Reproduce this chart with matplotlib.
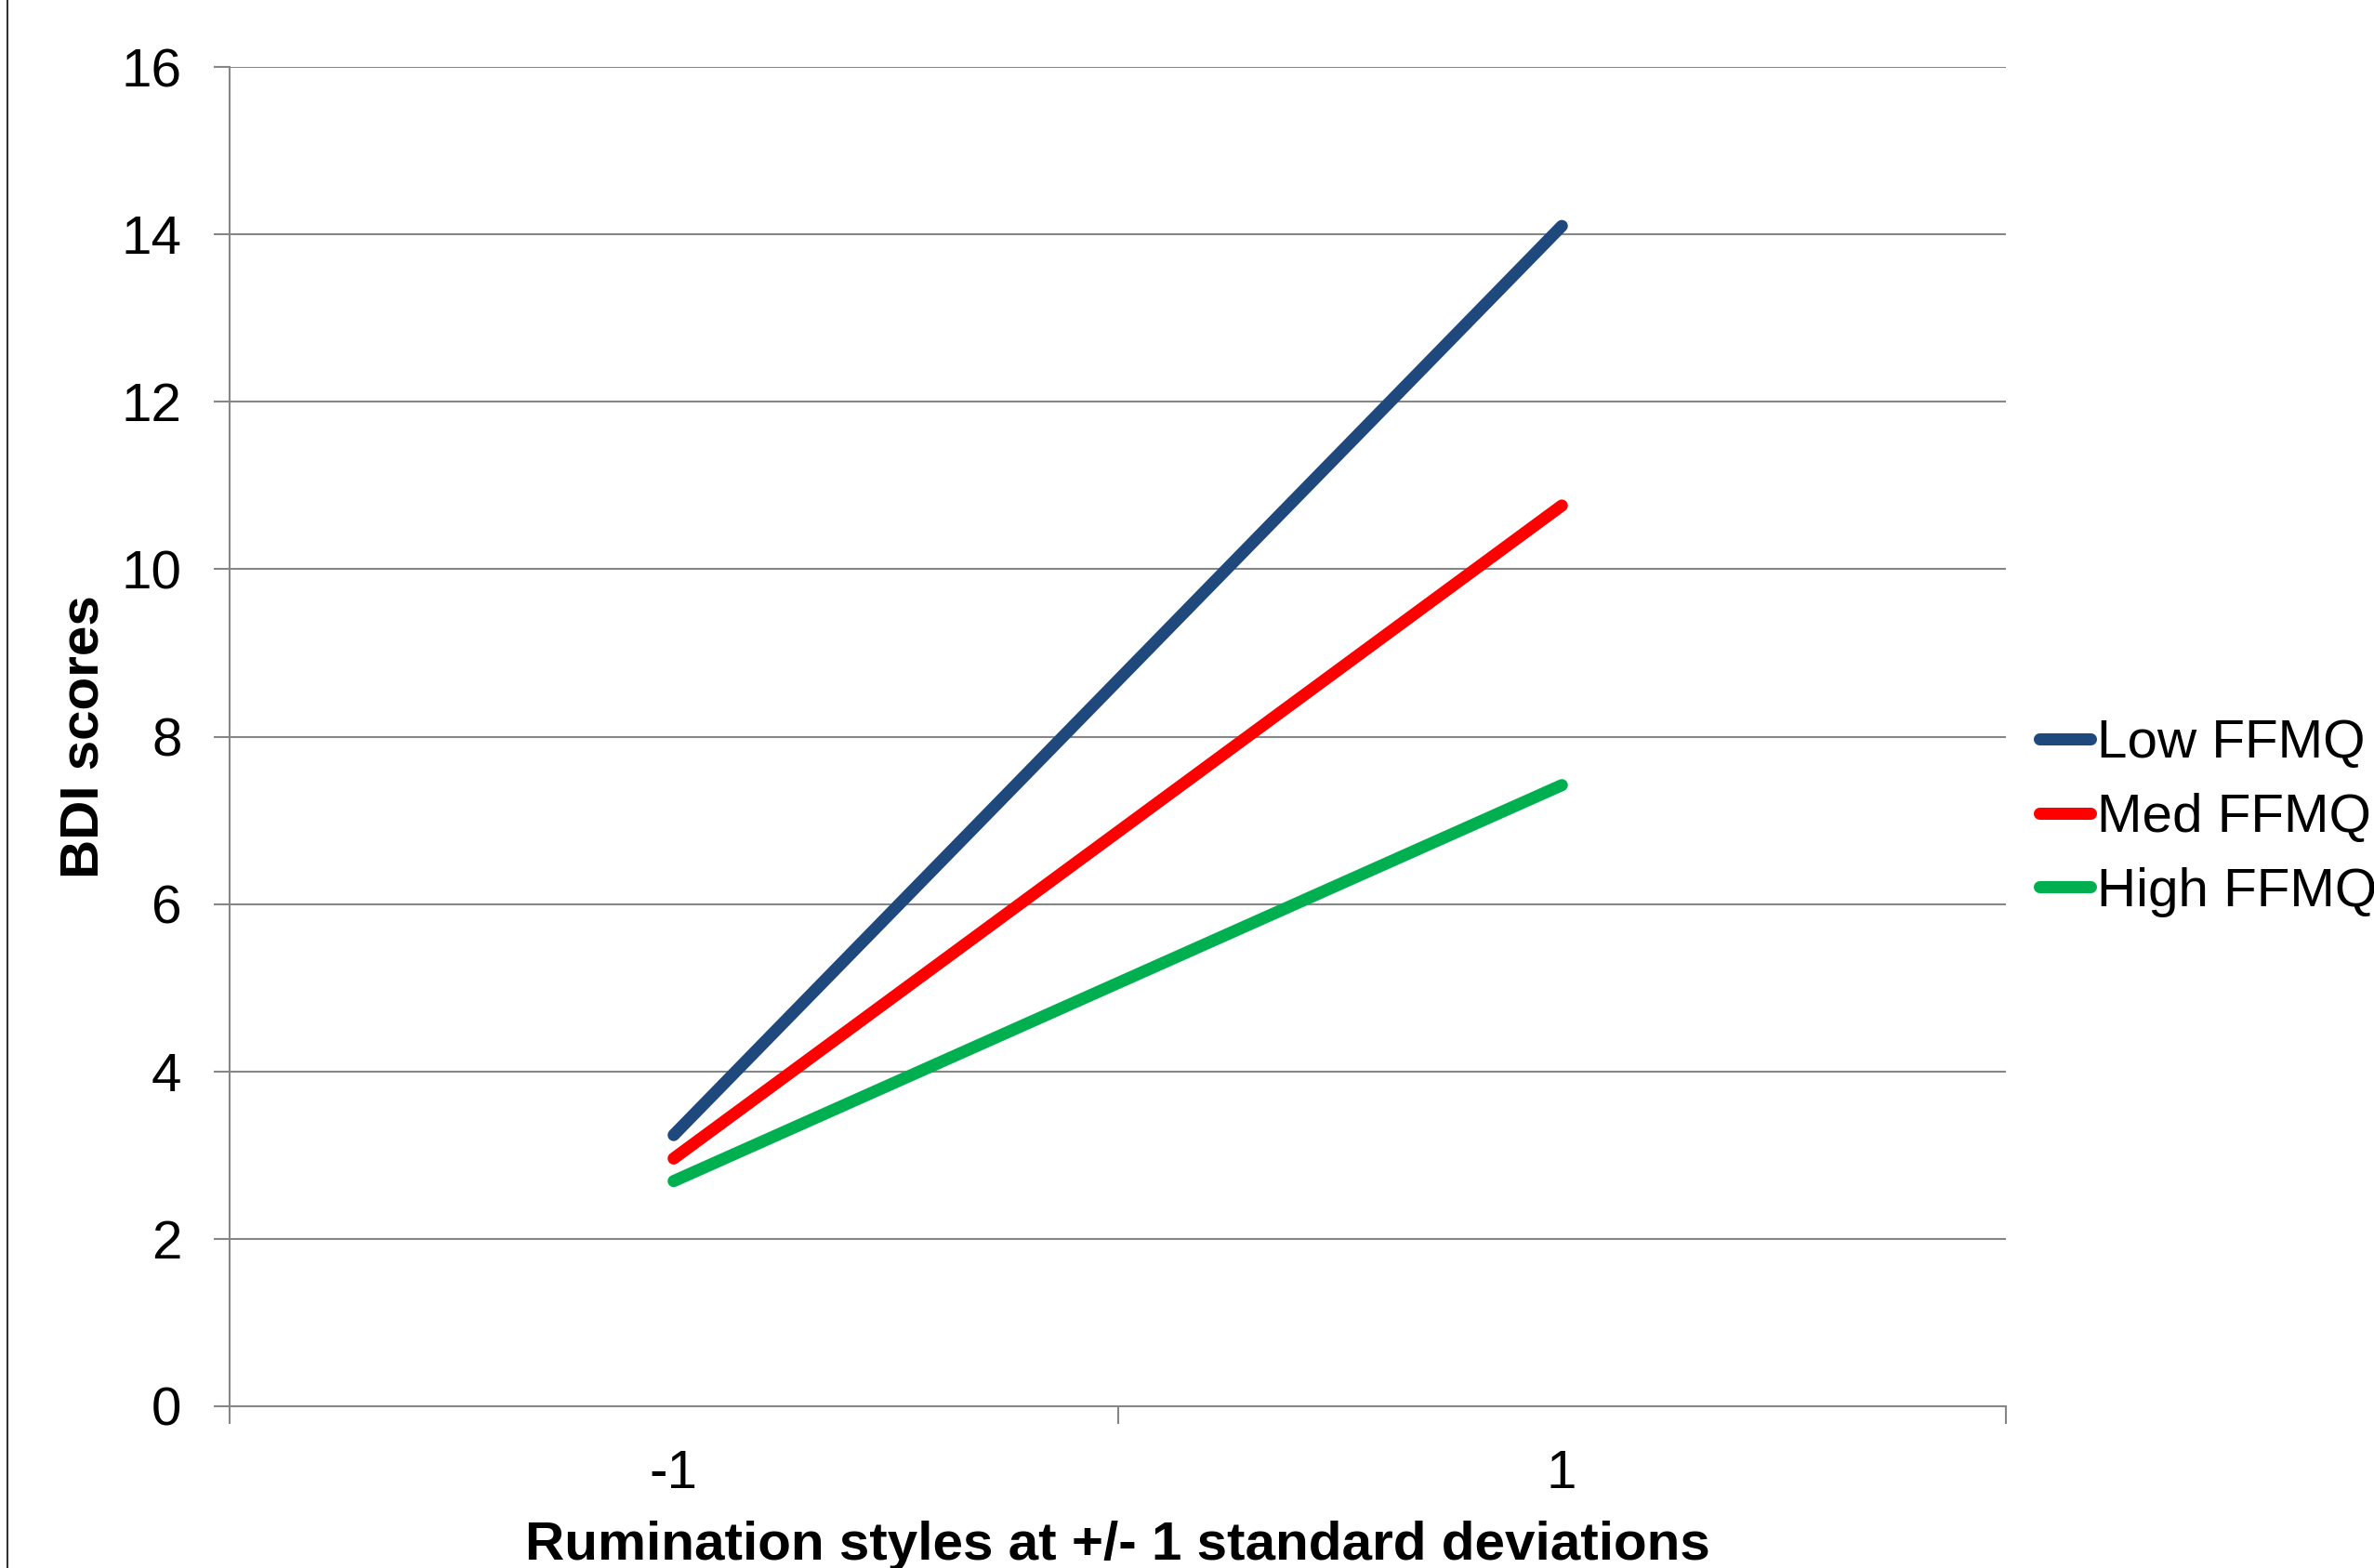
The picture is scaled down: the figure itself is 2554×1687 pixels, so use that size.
import matplotlib
matplotlib.use("Agg")
import matplotlib.pyplot as plt
from matplotlib.lines import Line2D

plt.rcParams['font.family'] = ['Liberation Sans', 'DejaVu Sans']

# values
categories = ['-1', '1']
low_ffmq = [3.24, 14.1]
med_ffmq = [2.96, 10.76]
high_ffmq = [2.69, 7.42]
series_names = ['Low FFMQ', 'Med FFMQ', 'High FFMQ']
series_colors = ['#1F497D', '#FF0000', '#00B050']
y_ticks = [0, 2, 4, 6, 8, 10, 12, 14, 16]

W, H = 2554, 1687
fig = plt.figure(figsize=(W / 100, H / 100), dpi=100)
ax = fig.add_axes([247 / W, 1 - 1513 / H, (2158 - 247) / W, (1513 - 72) / H])

grid_col = '#868686'
xpos = [0.5, 1.5]
for vals, name, col in zip([low_ffmq, med_ffmq, high_ffmq], series_names, series_colors):
    ax.plot(xpos, vals, color=col, lw=9.4, solid_capstyle='round', label=name, zorder=3)

ax.set_xlim(0, 2)
ax.set_ylim(0, 16)
ax.set_yticks(y_ticks)
ax.set_yticklabels([str(t) for t in y_ticks])
ax.yaxis.grid(True, color=grid_col, lw=1.5)
ax.set_axisbelow(True)

# category axis: ticks between categories, labels at centers
ax.set_xticks([0, 1, 2])
ax.set_xticklabels([])
ax.set_xticks(xpos, minor=True)
ax.set_xticklabels(categories, minor=True)
ax.tick_params(axis='x', which='major', length=14, width=1.5, color=grid_col, direction='out')
ax.tick_params(axis='x', which='minor', length=0, pad=33, labelsize=42)
ax.tick_params(axis='y', length=12, width=1.5, color=grid_col, direction='out', pad=25, labelsize=42)

for s in ['top', 'right']:
    ax.spines[s].set_visible(False)
for s in ['left', 'bottom']:
    ax.spines[s].set_color(grid_col)
    ax.spines[s].set_linewidth(1.5)

ax.set_ylabel('BDI scores', fontsize=42, fontweight='bold', va='center')
ax.yaxis.set_label_coords(-0.082, 0.5)
ax.set_xlabel('Rumination styles at +/- 1 standard deviations', fontsize=42, fontweight='bold', va='top')
ax.xaxis.set_label_coords(0.5, -0.0856)

fig.legend(loc='center left', bbox_to_anchor=(2194 / W, 1 - 880 / H), frameon=False,
           fontsize=42, handlelength=0.95, handletextpad=0.12, labelspacing=0.44,
           borderpad=0, borderaxespad=0)

# outer frame edge on the left
fig.add_artist(Line2D([8 / W, 8 / W], [0, 1], color='#333333', lw=1.5, transform=fig.transFigure))

fig.savefig('out.png', dpi=100)
